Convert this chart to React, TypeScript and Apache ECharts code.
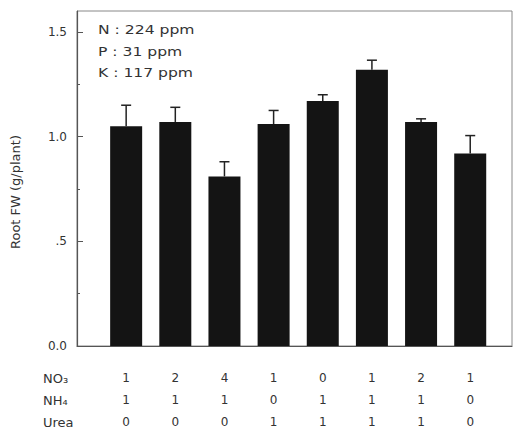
import React, { useEffect, useRef } from "react";
import * as echarts from "echarts";

const positions = [1, 2, 3, 4, 5, 6, 7, 8];
const rootFW = [1.05, 1.07, 0.81, 1.06, 1.17, 1.32, 1.07, 0.92];
const errors = [0.1, 0.07, 0.07, 0.065, 0.03, 0.045, 0.015, 0.085];
const no3 = ["1", "2", "4", "1", "0", "1", "2", "1"];
const nh4 = ["1", "1", "1", "0", "1", "1", "1", "0"];
const urea = ["0", "0", "0", "1", "1", "1", "1", "0"];
const rowTitles = ["NO₃", "NH₄", "Urea"];
const majorTicks = [0, 0.5, 1.0, 1.5];
const minorTicks = [0.25, 0.75, 1.25];
const notes = ["N : 224 ppm", "P : 31 ppm", "K : 117 ppm"];

const FONT = "DejaVu Sans";

export default function App() {
  const ref = useRef<HTMLDivElement>(null);
  useEffect(() => {
    document.body.style.margin = "0";
    if (!ref.current) return;
    const chart = echarts.init(ref.current, null, { renderer: "svg" });
    const barData = positions.map((x, i) => [x, rootFW[i]]);
    const errData = positions.map((x, i) => [x, rootFW[i], rootFW[i] + errors[i]]);
    const rowY = [378, 400, 422];
    const noteY = [29, 51, 72];
    chart.setOption({
      animation: false,
      backgroundColor: "#fff",
      grid: {
        left: 77,
        right: 8,
        top: 11,
        bottom: 89,
        show: true,
        borderColor: "#888",
        borderWidth: 1,
      },
      xAxis: {
        type: "value",
        min: 0,
        max: 8.85,
        interval: 1,
        splitLine: { show: false },
        axisLine: { show: true, lineStyle: { color: "#555", width: 1.2 } },
        axisTick: { show: false },
        axisLabel: {
          customValues: positions,
          margin: 21,
          fontFamily: FONT,
          fontSize: 12,
          color: "#333",
          lineHeight: 22,
          formatter: (v: number) => {
            const i = positions.indexOf(Math.round(v));
            if (i < 0) return "";
            return `${no3[i]}\n${nh4[i]}\n${urea[i]}`;
          },
        },
      },
      yAxis: [
        {
          type: "value",
          min: 0,
          max: 1.6,
          interval: 0.5,
          splitLine: { show: false },
          axisLine: { show: true, lineStyle: { color: "#555", width: 1.2 } },
          axisTick: {
            show: true,
            inside: true,
            length: 6,
            customValues: majorTicks,
            lineStyle: { color: "#555" },
          },
          axisLabel: {
            customValues: majorTicks,
            margin: 10,
            fontFamily: FONT,
            fontSize: 12,
            color: "#333",
            formatter: (v: number) => (Math.abs(v - 0.5) < 1e-9 ? ".5" : v.toFixed(1)),
          },
        },
        {
          type: "value",
          position: "left",
          min: 0,
          max: 1.6,
          interval: 0.25,
          splitLine: { show: false },
          axisLine: { show: false },
          axisTick: {
            show: true,
            inside: true,
            length: 3,
            customValues: minorTicks,
            lineStyle: { color: "#555" },
          },
          axisLabel: { show: false },
        },
      ],
      series: [
        {
          type: "bar",
          data: barData,
          barWidth: 32,
          itemStyle: { color: "#141414" },
        },
        {
          type: "custom",
          data: errData,
          z: 3,
          renderItem: (params: any, api: any) => {
            const x = api.value(0);
            const base = api.coord([x, api.value(1)]);
            const top = api.coord([x, api.value(2)]);
            const style = { stroke: "#222", lineWidth: 1.5 };
            return {
              type: "group",
              children: [
                { type: "line", shape: { x1: base[0], y1: base[1], x2: top[0], y2: top[1] }, style },
                { type: "line", shape: { x1: top[0] - 5, y1: top[1], x2: top[0] + 5, y2: top[1] }, style },
              ],
            };
          },
        },
      ],
      graphic: [
        {
          type: "text",
          x: 15,
          y: 192,
          rotation: Math.PI / 2,
          style: {
            text: "Root FW (g/plant)",
            fontFamily: FONT,
            fontSize: 13,
            fill: "#333",
            align: "center",
            verticalAlign: "middle",
          },
        },
        ...rowTitles.map((t, i) => ({
          type: "text",
          x: 43,
          y: rowY[i],
          style: {
            text: t,
            fontFamily: FONT,
            fontSize: 13,
            fill: "#333",
            align: "left",
            verticalAlign: "middle",
          },
        })),
        ...notes.map((t, i) => ({
          type: "text",
          x: 98,
          y: noteY[i],
          scaleX: 1.2,
          style: {
            text: t,
            fontFamily: FONT,
            fontSize: 13,
            fill: "#333",
            align: "left",
            verticalAlign: "middle",
          },
        })),
      ],
    });
    return () => chart.dispose();
  }, []);
  return <div ref={ref} style={{ width: 520, height: 435 }} />;
}
